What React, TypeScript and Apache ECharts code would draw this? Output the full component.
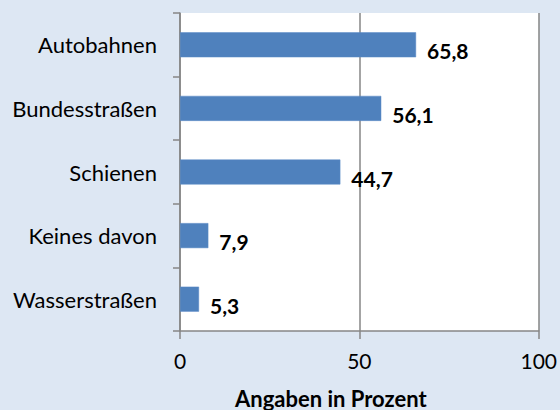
import React, { useEffect, useRef } from "react";
import * as echarts from "echarts";

const categories = ["Autobahnen", "Bundesstraßen", "Schienen", "Keines davon", "Wasserstraßen"];
const values = [65.8, 56.1, 44.7, 7.9, 5.3];
const xTicks = [0, 50, 100];
const axisTitle = "Angaben in Prozent";

export default function App() {
  const ref = useRef<HTMLDivElement>(null);
  useEffect(() => {
    document.body.style.margin = "0";
    if (!ref.current) return;
    const chart = echarts.init(ref.current, null, { renderer: "svg" });
    const font = "Lato, 'Open Sans', sans-serif";
    chart.setOption({
      animation: false,
      backgroundColor: "#dde7f3",
      textStyle: { fontFamily: font },
      grid: {
        left: 180,
        right: 21,
        top: 13,
        bottom: 79,
        show: true,
        backgroundColor: "#ffffff",
        borderWidth: 0,
      },
      xAxis: {
        type: "value",
        min: xTicks[0],
        max: xTicks[xTicks.length - 1],
        interval: 50,
        axisLine: { show: true, lineStyle: { color: "#868686", width: 1.5 } },
        axisTick: { show: true, length: 8, lineStyle: { color: "#868686", width: 1.5 } },
        splitLine: { show: true, lineStyle: { color: "#868686", width: 1.5 } },
        axisLabel: {
          color: "#000",
          fontSize: 21,
          fontFamily: font,
          margin: 19,
          formatter: (v: number) => String(v),
        },
      },
      yAxis: {
        type: "category",
        inverse: true,
        data: categories,
        axisLine: { show: true, lineStyle: { color: "#868686", width: 1.5 } },
        axisTick: { show: true, length: 7, alignWithLabel: false, lineStyle: { color: "#868686", width: 1.5 } },
        splitLine: { show: false },
        axisLabel: {
          color: "#000",
          fontSize: 22,
          fontFamily: font,
          margin: 23,
        },
      },
      series: [
        {
          type: "bar",
          data: values,
          barWidth: 25,
          itemStyle: { color: "#4f81bd", borderColor: "#5a8ac6", borderWidth: 0.5 },
          label: {
            show: true,
            position: "right",
            distance: 11,
            offset: [0, 6],
            color: "#000",
            fontWeight: "bold",
            fontSize: 21,
            fontFamily: font,
            formatter: (p: any) => String(p.value).replace(".", ","),
          },
        },
      ],
      graphic: [
        {
          type: "text",
          left: 235,
          top: 387,
          style: {
            text: axisTitle,
            fill: "#000",
            font: `bold 22px ${font}`,
          },
        },
      ],
    });
    return () => chart.dispose();
  }, []);
  return <div ref={ref} style={{ width: 560, height: 410 }} />;
}
